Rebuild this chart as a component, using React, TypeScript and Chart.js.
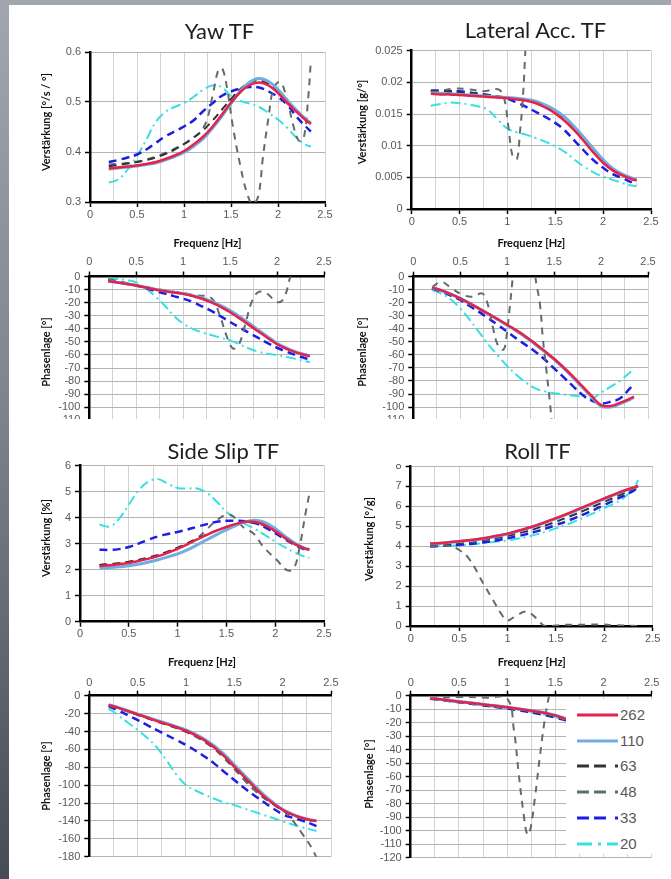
import React, { useEffect, useRef } from "react";
import { Chart, registerables } from "chart.js";

Chart.register(...registerables);

// ---------------- DATA ----------------
const FREQ = [0.2, 0.3, 0.4, 0.5, 0.6, 0.7, 0.8, 0.9, 1.0, 1.1, 1.2, 1.3, 1.4, 1.5, 1.6, 1.7, 1.8, 1.9, 2.0, 2.1, 2.2, 2.3, 2.35];
const SERIES_KEYS = ["262", "110", "63", "48", "33", "20"];

// Yaw TF magnitude
const YAW_MAG_262 = [0.367, 0.369, 0.371, 0.373, 0.376, 0.38, 0.386, 0.393, 0.402, 0.415, 0.43, 0.45, 0.474, 0.499, 0.52, 0.534, 0.539, 0.533, 0.518, 0.498, 0.48, 0.463, 0.456];
const YAW_MAG_110 = [0.366, 0.368, 0.37, 0.372, 0.375, 0.378, 0.384, 0.391, 0.399, 0.411, 0.426, 0.447, 0.471, 0.497, 0.522, 0.54, 0.547, 0.541, 0.525, 0.503, 0.483, 0.465, 0.458];
const YAW_MAG_63 = [0.372, 0.374, 0.377, 0.38, 0.384, 0.389, 0.396, 0.405, 0.416, 0.429, 0.443, 0.462, 0.484, 0.506, 0.526, 0.539, 0.543, 0.536, 0.521, 0.5, 0.481, 0.464, 0.457];
const YAW_MAG_48_F = [0.2, 0.4, 0.6, 0.8, 1.0, 1.1, 1.17, 1.24, 1.31, 1.37, 1.41, 1.46, 1.52, 1.6, 1.67, 1.73, 1.79, 1.84, 1.9, 1.95, 2.02, 2.09, 2.16, 2.22, 2.27, 2.32, 2.35];
const YAW_MAG_48 = [0.375, 0.378, 0.385, 0.398, 0.416, 0.428, 0.44, 0.462, 0.518, 0.566, 0.566, 0.525, 0.451, 0.372, 0.318, 0.296, 0.312, 0.39, 0.47, 0.525, 0.54, 0.51, 0.455, 0.423, 0.425, 0.505, 0.585];
const YAW_MAG_33 = [0.38, 0.384, 0.389, 0.395, 0.405, 0.418, 0.431, 0.441, 0.451, 0.463, 0.481, 0.497, 0.512, 0.521, 0.527, 0.53, 0.529, 0.521, 0.51, 0.494, 0.47, 0.45, 0.441];
const YAW_MAG_20 = [0.339, 0.345, 0.365, 0.392, 0.425, 0.46, 0.48, 0.49, 0.498, 0.51, 0.524, 0.533, 0.53, 0.512, 0.502, 0.497, 0.49, 0.478, 0.465, 0.448, 0.428, 0.414, 0.411];

// Lateral Acc. TF magnitude
const LAT_MAG_262 = [0.0182, 0.0181, 0.0181, 0.018, 0.0179, 0.0178, 0.0177, 0.0176, 0.0175, 0.0173, 0.0171, 0.0167, 0.016, 0.0151, 0.0139, 0.0124, 0.0107, 0.0089, 0.0073, 0.0061, 0.0053, 0.0047, 0.0045];
const LAT_MAG_110 = [0.0183, 0.0183, 0.0182, 0.0181, 0.018, 0.0179, 0.0178, 0.0177, 0.0176, 0.0175, 0.0173, 0.017, 0.0164, 0.0156, 0.0145, 0.013, 0.0113, 0.0095, 0.0078, 0.0064, 0.0055, 0.0049, 0.0046];
const LAT_MAG_63 = [0.0186, 0.0186, 0.0185, 0.0184, 0.0183, 0.0182, 0.018, 0.0178, 0.0176, 0.0174, 0.0172, 0.0168, 0.0161, 0.0152, 0.014, 0.0125, 0.0108, 0.009, 0.0074, 0.0062, 0.0054, 0.0048, 0.0046];
const LAT_MAG_48_F = [0.2, 0.3, 0.45, 0.6, 0.75, 0.9, 0.96, 1.01, 1.055, 1.1, 1.13, 1.16, 1.19, 1.22];
const LAT_MAG_48 = [0.0186, 0.0187, 0.019, 0.0189, 0.0186, 0.0189, 0.0178, 0.013, 0.0083, 0.0079, 0.012, 0.0172, 0.026, 0.036];
const LAT_MAG_33 = [0.0187, 0.0187, 0.0186, 0.0186, 0.0184, 0.0182, 0.018, 0.0177, 0.0174, 0.0168, 0.0161, 0.0153, 0.0145, 0.0136, 0.0124, 0.0108, 0.0092, 0.0077, 0.0065, 0.0055, 0.0049, 0.0042, 0.0039];
const LAT_MAG_20 = [0.0163, 0.0166, 0.0168, 0.0167, 0.0165, 0.0162, 0.0156, 0.0141, 0.0127, 0.0121, 0.0117, 0.0112, 0.0106, 0.0099, 0.009, 0.0078, 0.0067, 0.0058, 0.0051, 0.0046, 0.0041, 0.0037, 0.0036];

// Yaw TF phase
const YAW_PH_262 = [-3.5, -4.6, -5.7, -6.9, -8.4, -9.9, -11.2, -12.2, -13.3, -14.9, -17.0, -19.8, -23.2, -27.3, -32.0, -37.0, -42.0, -47.0, -51.8, -55.3, -58.0, -60.0, -60.9];
const YAW_PH_110 = [-3.4, -4.5, -5.6, -6.8, -8.2, -9.7, -11.0, -12.0, -13.0, -14.5, -16.4, -19.0, -22.2, -26.0, -30.6, -35.6, -40.8, -46.0, -51.0, -54.8, -57.7, -59.8, -60.7];
const YAW_PH_63 = [-3.4, -4.5, -5.6, -6.8, -8.2, -9.6, -10.9, -12.0, -13.2, -14.8, -16.8, -19.6, -23.0, -27.0, -31.8, -36.8, -41.8, -46.8, -51.5, -55.0, -57.8, -59.8, -60.8];
const YAW_PH_48_F = [0.2, 0.4, 0.6, 0.8, 1.0, 1.15, 1.3, 1.39, 1.46, 1.53, 1.59, 1.66, 1.73, 1.8, 1.89, 2.0, 2.07, 2.14, 2.18];
const YAW_PH_48 = [-2, -5, -8, -10.5, -12.8, -14.5, -16.5, -29.7, -45, -55, -52.5, -37, -19.5, -12, -13, -19.5, -17, -0.5, 8];
const YAW_PH_33 = [-2.5, -4, -5.4, -6.9, -8.9, -11, -13, -15, -17, -19.5, -22.8, -26.3, -30.5, -34.8, -39, -43, -47, -51, -54.5, -57.5, -60.2, -62.5, -63.5];
const YAW_PH_20 = [-1.3, -2, -2.8, -4.5, -9, -15, -22, -30, -36, -40, -42.8, -44.8, -46.8, -49, -51.8, -55, -57.5, -59, -60.2, -61.5, -63, -64.8, -65.5];

// Lateral Acc. TF phase
const LAT_PH_262 = [-8.2, -10.5, -13.3, -16.6, -20.4, -24.4, -28.5, -32.6, -36.8, -41.2, -46, -51.4, -57.1, -63, -69.5, -76.5, -84, -91.5, -98.5, -99.2, -96.8, -93.8, -92];
const LAT_PH_110 = [-8.3, -10.6, -13.4, -16.7, -20.5, -24.5, -28.6, -32.8, -37.2, -41.6, -46.5, -51.8, -57.5, -63.5, -70.2, -77.3, -84.8, -92.3, -99.3, -100, -97.5, -94.5, -92.5];
const LAT_PH_63 = [-8.5, -11, -13.8, -17, -21, -25, -29, -33.2, -37.5, -42, -46.8, -52.2, -57.8, -63.8, -70.2, -77.2, -84.6, -92, -98.8, -99.5, -97.2, -94.2, -92.5];
const LAT_PH_48_F = [0.2, 0.3, 0.41, 0.53, 0.64, 0.73, 0.78, 0.85, 0.9, 0.96, 0.99, 1.03, 1.06, 1.1, 1.18, 1.26, 1.3, 1.35, 1.38, 1.42, 1.45, 1.47, 1.5];
const LAT_PH_48 = [-8, -4, -9, -14, -15.3, -12.8, -17.9, -39.6, -52.4, -56, -47.3, -21.7, 0, 30, 60, 30, 0, -21.7, -47.3, -73, -93, -108, -140];
const LAT_PH_33 = [-9, -11.5, -14.5, -17.9, -22.5, -27, -32, -37, -42.2, -47.5, -52.5, -57.5, -63.5, -70.3, -77, -84, -90.5, -95, -97.2, -96, -93.5, -86.3, -81.8];
const LAT_PH_20 = [-10.2, -13, -17.5, -24.3, -33, -42.5, -52, -60.5, -68.5, -75.5, -81.2, -85.7, -88, -89.5, -90.3, -91.2, -92.3, -93.5, -89, -84.5, -80, -74, -70.3];

// Side Slip TF magnitude
const SS_MAG_262 = [2.14, 2.17, 2.21, 2.26, 2.33, 2.42, 2.52, 2.65, 2.8, 2.97, 3.16, 3.34, 3.5, 3.64, 3.76, 3.84, 3.83, 3.7, 3.48, 3.22, 2.98, 2.82, 2.77];
const SS_MAG_110 = [2.06, 2.08, 2.11, 2.15, 2.21, 2.29, 2.38, 2.49, 2.61, 2.76, 2.95, 3.15, 3.35, 3.53, 3.7, 3.84, 3.9, 3.81, 3.58, 3.29, 3.02, 2.83, 2.78];
const SS_MAG_63 = [2.18, 2.21, 2.25, 2.3, 2.37, 2.46, 2.56, 2.69, 2.84, 3.01, 3.19, 3.36, 3.51, 3.64, 3.75, 3.82, 3.8, 3.68, 3.47, 3.21, 2.98, 2.82, 2.77];
const SS_MAG_48_F = [0.2, 0.5, 0.8, 1.0, 1.2, 1.3, 1.4, 1.52, 1.6, 1.67, 1.78, 1.88, 2.02, 2.12, 2.19, 2.25, 2.31, 2.35];
const SS_MAG_48 = [2.18, 2.3, 2.57, 2.85, 3.22, 3.55, 3.9, 4.12, 3.95, 3.64, 3.38, 2.87, 2.36, 1.98, 2.04, 2.87, 4.15, 4.91];
const SS_MAG_33 = [2.77, 2.76, 2.79, 2.87, 3.0, 3.15, 3.28, 3.37, 3.45, 3.54, 3.65, 3.75, 3.84, 3.88, 3.88, 3.86, 3.78, 3.62, 3.4, 3.17, 2.95, 2.78, 2.72];
const SS_MAG_20 = [3.74, 3.66, 3.95, 4.5, 5.05, 5.38, 5.48, 5.3, 5.14, 5.12, 5.12, 4.95, 4.62, 4.22, 3.95, 3.74, 3.55, 3.32, 3.08, 2.86, 2.66, 2.5, 2.45];

// Roll TF magnitude
const ROLL_MAG_262 = [4.12, 4.15, 4.19, 4.24, 4.29, 4.35, 4.43, 4.52, 4.62, 4.75, 4.89, 5.04, 5.21, 5.39, 5.58, 5.78, 5.98, 6.18, 6.38, 6.57, 6.76, 6.92, 7.0];
const ROLL_MAG_110 = [4.1, 4.13, 4.17, 4.22, 4.27, 4.33, 4.41, 4.5, 4.6, 4.73, 4.87, 5.02, 5.19, 5.37, 5.56, 5.76, 5.96, 6.16, 6.36, 6.56, 6.74, 6.91, 6.99];
const ROLL_MAG_63 = [4.05, 4.08, 4.11, 4.15, 4.2, 4.26, 4.33, 4.41, 4.5, 4.61, 4.74, 4.88, 5.04, 5.21, 5.4, 5.59, 5.79, 6.0, 6.21, 6.42, 6.63, 6.85, 6.96];
const ROLL_MAG_48_F = [0.2, 0.4, 0.5, 0.6, 0.75, 0.85, 0.95, 1.0, 1.1, 1.2, 1.3, 1.38, 1.5, 1.6, 1.8, 1.95, 2.1, 2.35];
const ROLL_MAG_48 = [4.0, 4.0, 3.8, 3.38, 2.13, 1.3, 0.5, 0.27, 0.55, 0.72, 0.38, 0.02, 0.02, 0.06, 0.06, 0.08, 0.04, 0.0];
const ROLL_MAG_33 = [3.97, 4.0, 4.03, 4.06, 4.1, 4.15, 4.21, 4.29, 4.38, 4.48, 4.6, 4.73, 4.88, 5.05, 5.22, 5.41, 5.61, 5.82, 6.05, 6.28, 6.51, 6.76, 6.93];
const ROLL_MAG_20 = [3.97, 3.99, 4.01, 4.04, 4.07, 4.12, 4.17, 4.22, 4.28, 4.36, 4.46, 4.58, 4.72, 4.88, 5.05, 5.24, 5.45, 5.67, 5.9, 6.12, 6.4, 6.88, 7.3];

// Side Slip TF phase
const SS_PH_262 = [-10.4, -13.6, -17.2, -20.9, -24.6, -28.3, -31.8, -35.3, -39.2, -44.3, -50.5, -58.5, -68.2, -79.4, -90.5, -101.5, -112, -120.5, -127.8, -133, -136.8, -139.3, -140.1];
const SS_PH_110 = [-10, -13.2, -16.8, -20.4, -24, -27.6, -31, -34.5, -38.3, -43.2, -49.2, -56.8, -66.2, -77.2, -88.3, -99.5, -110.3, -119.3, -127, -132.4, -136.4, -139, -139.7];
const SS_PH_63 = [-10.8, -14, -17.6, -21.3, -25, -28.7, -32.3, -36, -40, -45, -51.3, -59.3, -69, -80.2, -91.3, -102.2, -112.6, -121, -128.2, -133.4, -137.2, -139.7, -140.5];
const SS_PH_48 = [-11, -14.2, -17.8, -21.5, -25.2, -28.9, -32.5, -36.3, -40.5, -45.8, -52.3, -60.3, -70.5, -82, -94, -105, -114, -121, -128, -139, -154, -170, -181];
const SS_PH_33 = [-11.6, -16.6, -21.8, -27.2, -33, -38.6, -44, -49.5, -55.2, -61.5, -68.5, -76.5, -85.5, -94.3, -103, -111, -118.5, -126, -132.5, -136.5, -139.5, -143.5, -145.7];
const SS_PH_20 = [-14.2, -22, -30.2, -38.4, -47.2, -58, -72.5, -88, -100, -106, -111, -115.5, -119.5, -122.3, -126, -129.6, -133.2, -136.8, -140.5, -144, -147, -150, -151];

// Roll TF phase (visible part, 0.2 .. 1.7 Hz)
const ROLL_PH_262 = [-2, -2.7, -3.5, -4.4, -5.2, -6, -6.9, -7.7, -8.6, -9.6, -10.6, -11.7, -12.9, -14.6, -17, -19];
const ROLL_PH_110 = [-1.9, -2.6, -3.4, -4.3, -5.1, -5.9, -6.8, -7.6, -8.5, -9.5, -10.5, -11.6, -12.8, -14.5, -16.9, -18.9];
const ROLL_PH_63 = [-2.1, -2.9, -3.7, -4.6, -5.5, -6.4, -7.3, -8.2, -9.1, -10.1, -11.2, -12.4, -13.7, -15.4, -17.6, -19.6];
const ROLL_PH_48_F = [0.2, 0.5, 0.8, 1.0, 1.07, 1.12, 1.17, 1.21, 1.24, 1.29, 1.34, 1.39, 1.43, 1.47];
const ROLL_PH_48 = [-2, -1, -1.5, -2, -25, -57.5, -87, -103, -99.5, -74.8, -45, -18, -2, 10];
const ROLL_PH_33 = [-2.2, -3.0, -3.9, -4.8, -5.7, -6.6, -7.6, -8.5, -9.5, -10.6, -11.8, -13.1, -14.5, -16.1, -18, -20];
const ROLL_PH_20 = [-2.3, -3.1, -4, -4.9, -5.8, -6.7, -7.6, -8.5, -9.3, -10.3, -11.5, -12.8, -14.2, -15.8, -17.6, -19.6];

// ---------------- STYLES ----------------
const STYLE: Record<string, { color: string; width: number; dash: number[]; legendDash: string }> = {
  "262": { color: "#e3234b", width: 2.5, dash: [], legendDash: "" },
  "110": { color: "#72ade0", width: 3, dash: [], legendDash: "" },
  "63": { color: "#333333", width: 2, dash: [8, 5], legendDash: "12 5 12 9 3 9" },
  "48": { color: "#5f6d6d", width: 2, dash: [7, 6], legendDash: "12 5 12 9 3 9" },
  "33": { color: "#1d1de6", width: 2.5, dash: [8, 5], legendDash: "12 5 12 9 3 9" },
  "20": { color: "#38e0e0", width: 2, dash: [10, 4, 2, 4], legendDash: "15 6 3 6" },
};

const TICK_FONT = { family: "'Liberation Sans', Arial, sans-serif", size: 11 };
const TICK_COLOR = "#595959";
const TICK_LH = 11 * 1.2;
const TICK_LEN = 5;
const AXIS_FONT = { family: "Lato, 'Open Sans', sans-serif", size: 11, weight: "bold" as const };
const AXIS_LH = 11 * 1.2;

type S = { key: string; xs: number[]; ys: number[] };
const s = (key: string, xs: number[], ys: number[]): S => ({ key, xs, ys });

interface PanelCfg {
  id: string;
  title?: string;
  titlePos?: [number, number];
  yTitle: string;
  yTitlePos: [number, number];
  box: [number, number, number, number];
  plot: [number, number, number, number];
  xPos: "top" | "bottom";
  xLabelY: number;
  xTitleY?: number;
  yMin: number;
  yMax: number;
  yStep: number;
  series: S[];
}

const PANELS: PanelCfg[] = [
  {
    id: "yawMag", title: "Yaw TF", titlePos: [219.5, 31], yTitle: "Verstärkung [°/s / °]", yTitlePos: [45, 121.7],
    box: [10, 40, 325, 215], plot: [90, 52, 325, 202], xPos: "bottom", xLabelY: 215, xTitleY: 243,
    yMin: 0.3, yMax: 0.6, yStep: 0.1,
    series: [s("262", FREQ, YAW_MAG_262), s("110", FREQ, YAW_MAG_110), s("63", FREQ, YAW_MAG_63), s("48", YAW_MAG_48_F, YAW_MAG_48), s("33", FREQ, YAW_MAG_33), s("20", FREQ, YAW_MAG_20)],
  },
  {
    id: "latMag", title: "Lateral Acc. TF", titlePos: [535.5, 30.3], yTitle: "Verstärkung [g/°]", yTitlePos: [361.3, 121.7],
    box: [335, 40, 336, 215], plot: [411.7, 50.7, 651, 209], xPos: "bottom", xLabelY: 222, xTitleY: 243,
    yMin: 0, yMax: 0.025, yStep: 0.005,
    series: [s("262", FREQ, LAT_MAG_262), s("110", FREQ, LAT_MAG_110), s("63", FREQ, LAT_MAG_63), s("48", LAT_MAG_48_F, LAT_MAG_48), s("33", FREQ, LAT_MAG_33), s("20", FREQ, LAT_MAG_20)],
  },
  {
    id: "yawPh", yTitle: "Phasenlage [°]", yTitlePos: [44.7, 351.7],
    box: [10, 252, 325, 192], plot: [89.3, 276.5, 324, 434.1], xPos: "top", xLabelY: 262,
    yMin: -120, yMax: 0, yStep: 10,
    series: [s("262", FREQ, YAW_PH_262), s("110", FREQ, YAW_PH_110), s("63", FREQ, YAW_PH_63), s("48", YAW_PH_48_F, YAW_PH_48), s("33", FREQ, YAW_PH_33), s("20", FREQ, YAW_PH_20)],
  },
  {
    id: "latPh", yTitle: "Phasenlage [°]", yTitlePos: [361.3, 351.7],
    box: [335, 252, 336, 192], plot: [413.3, 276.7, 648, 433.1], xPos: "top", xLabelY: 262.3,
    yMin: -120, yMax: 0, yStep: 10,
    series: [s("262", FREQ, LAT_PH_262), s("110", FREQ, LAT_PH_110), s("63", FREQ, LAT_PH_63), s("48", LAT_PH_48_F, LAT_PH_48), s("33", FREQ, LAT_PH_33), s("20", FREQ, LAT_PH_20)],
  },
  {
    id: "ssMag", title: "Side Slip TF", titlePos: [223.3, 451], yTitle: "Verstärkung [%]", yTitlePos: [45.3, 538.3],
    box: [10, 455, 325, 217], plot: [80, 465, 324, 621.7], xPos: "bottom", xLabelY: 634, xTitleY: 662,
    yMin: 0, yMax: 6, yStep: 1,
    series: [s("262", FREQ, SS_MAG_262), s("110", FREQ, SS_MAG_110), s("63", FREQ, SS_MAG_63), s("48", SS_MAG_48_F, SS_MAG_48), s("33", FREQ, SS_MAG_33), s("20", FREQ, SS_MAG_20)],
  },
  {
    id: "rollMag", title: "Roll TF", titlePos: [537.5, 451], yTitle: "Verstärkung [°/g]", yTitlePos: [368.3, 539],
    box: [335, 455, 336, 217], plot: [410.7, 466, 652.7, 626], xPos: "bottom", xLabelY: 639, xTitleY: 662,
    yMin: 0, yMax: 8, yStep: 1,
    series: [s("262", FREQ, ROLL_MAG_262), s("110", FREQ, ROLL_MAG_110), s("63", FREQ, ROLL_MAG_63), s("48", ROLL_MAG_48_F, ROLL_MAG_48), s("33", FREQ, ROLL_MAG_33), s("20", FREQ, ROLL_MAG_20)],
  },
  {
    id: "ssPh", yTitle: "Phasenlage [°]", yTitlePos: [45, 775.8],
    box: [10, 676, 345, 194], plot: [89.3, 695.7, 331, 856.7], xPos: "top", xLabelY: 683,
    yMin: -180, yMax: 0, yStep: 20,
    series: [s("262", FREQ, SS_PH_262), s("110", FREQ, SS_PH_110), s("63", FREQ, SS_PH_63), s("48", FREQ, SS_PH_48), s("33", FREQ, SS_PH_33), s("20", FREQ, SS_PH_20)],
  },
  {
    id: "rollPh", yTitle: "Phasenlage [°]", yTitlePos: [368, 774.2],
    box: [335, 676, 336, 194], plot: [410.7, 695.7, 651.7, 857.7], xPos: "top", xLabelY: 683,
    yMin: -120, yMax: 0, yStep: 10,
    series: [s("262", FREQ, ROLL_PH_262), s("110", FREQ, ROLL_PH_110), s("63", FREQ, ROLL_PH_63), s("48", ROLL_PH_48_F, ROLL_PH_48), s("33", FREQ, ROLL_PH_33), s("20", FREQ, ROLL_PH_20)],
  },
];

const isHalf = (v: number) => Math.abs(v * 2 - Math.round(v * 2)) < 1e-6;

function buildConfig(cfg: PanelCfg): any {
  const [cl, ct, W, H] = cfg.box;
  const [pl, pt, pr, pb] = cfg.plot;
  const bottom = cfg.xPos === "bottom";
  const xH = bottom ? ct + H - pb : pt - ct;
  const padding = {
    left: 0,
    right: cl + W - pr,
    top: bottom ? pt - ct : 0,
    bottom: bottom ? 0 : ct + H - pb,
  };
  const xTickPad = bottom ? cfg.xLabelY - pb - TICK_LEN - TICK_LH / 2 : pt - TICK_LEN - TICK_LH / 2 - cfg.xLabelY;
  const datasets = cfg.series.map((sr) => {
    const st = STYLE[sr.key];
    return {
      label: sr.key,
      data: sr.ys.map((y, i) => ({ x: sr.xs[i], y })),
      borderColor: st.color,
      backgroundColor: st.color,
      borderWidth: st.width,
      borderDash: st.dash,
      pointRadius: 0,
      tension: 0.4,
      fill: false,
      clip: 0,
    };
  });
  return {
    type: "line",
    data: { datasets },
    options: {
      responsive: false,
      animation: false,
      devicePixelRatio: 1,
      events: [],
      layout: { padding, autoPadding: false },
      elements: { line: { capBezierPoints: false } },
      plugins: { legend: { display: false }, tooltip: { enabled: false }, title: { display: false } },
      scales: {
        x: {
          type: "linear",
          position: cfg.xPos,
          min: 0,
          max: 2.5,
          afterFit: (sc: any) => { sc.height = xH; },
          ticks: {
            stepSize: 0.25,
            autoSkip: false,
            maxRotation: 0,
            minRotation: 0,
            padding: xTickPad,
            color: TICK_COLOR,
            font: TICK_FONT,
            callback: (v: any) => (isHalf(Number(v)) ? String(Math.round(Number(v) * 2) / 2) : ""),
          },
          grid: {
            color: "#d2d2d2",
            lineWidth: 1,
            tickLength: TICK_LEN,
            tickWidth: 1.5,
            tickColor: (c: any) => (c.tick && isHalf(c.tick.value) ? "#000" : "rgba(0,0,0,0)"),
          },
          border: { color: "#000", width: 2.5 },
          title: bottom
            ? { display: true, text: "Frequenz [Hz]", font: AXIS_FONT, color: "#111", padding: { top: 0, bottom: ct + H - (cfg.xTitleY as number) - AXIS_LH / 2 } }
            : { display: false },
        },
        y: {
          type: "linear",
          position: "left",
          min: cfg.yMin,
          max: cfg.yMax,
          afterFit: (sc: any) => { sc.width = pl - cl; },
          ticks: {
            stepSize: cfg.yStep,
            autoSkip: false,
            padding: 4,
            color: TICK_COLOR,
            font: TICK_FONT,
            callback: (v: any) => String(Number(Number(v).toFixed(4))),
          },
          grid: { color: "#b4b4b4", lineWidth: 1, tickLength: TICK_LEN, tickWidth: 1.5, tickColor: "#000" },
          border: { color: "#000", width: 2.5 },
        },
      },
    },
  };
}

function Panel({ cfg }: { cfg: PanelCfg }) {
  const ref = useRef<HTMLCanvasElement>(null);
  useEffect(() => {
    if (!ref.current) return;
    const chart = new Chart(ref.current, buildConfig(cfg));
    return () => chart.destroy();
  }, [cfg]);
  const [l, t, w, h] = cfg.box;
  return (
    <canvas
      ref={ref}
      width={w}
      height={h}
      style={{ position: "absolute", left: l, top: t, width: w, height: h, zIndex: 1 }}
    />
  );
}

const LEGEND_BOX = { left: 566, top: 699, width: 88, height: 155 };
const LEGEND_ROW0 = 715;
const LEGEND_ROW_STEP = 25.7;

function Legend() {
  return (
    <div style={{ position: "absolute", ...LEGEND_BOX, background: "#fff", zIndex: 3 }}>
      {SERIES_KEYS.map((k, i) => {
        const st = STYLE[k];
        const cy = LEGEND_ROW0 + i * LEGEND_ROW_STEP - LEGEND_BOX.top;
        return (
          <div key={k}>
            <svg width={42} height={8} style={{ position: "absolute", left: 10.7, top: cy - 4 }}>
              <line x1={0} y1={4} x2={41} y2={4} stroke={st.color} strokeWidth={3} strokeDasharray={st.legendDash || undefined} />
            </svg>
            <span
              style={{
                position: "absolute",
                left: 54,
                top: cy - 10,
                height: 20,
                lineHeight: "20px",
                fontFamily: "'Liberation Sans', Arial, sans-serif",
                fontSize: 15,
                color: "#595959",
                whiteSpace: "nowrap",
              }}
            >
              {k}
            </span>
          </div>
        );
      })}
    </div>
  );
}

export default function App() {
  return (
    <div style={{ position: "absolute", left: 0, top: 0, width: 671, height: 879, background: "#fff", overflow: "hidden" }}>
      {PANELS.map((p) => (
        <Panel key={p.id} cfg={p} />
      ))}
      {/* cropped edges of the source picture */}
      <div style={{ position: "absolute", left: 9, top: 419, width: 322, height: 21, background: "#fff", zIndex: 2 }} />
      <div style={{ position: "absolute", left: 335, top: 419, width: 336, height: 21, background: "#fff", zIndex: 2 }} />
      <div style={{ position: "absolute", left: 335, top: 440, width: 336, height: 23.5, background: "#fff", zIndex: 2 }} />
      <Legend />
      {PANELS.filter((p) => p.title).map((p) => (
        <div
          key={p.id + "-t"}
          style={{
            position: "absolute",
            left: (p.titlePos as number[])[0],
            top: (p.titlePos as number[])[1],
            transform: "translate(-50%, -50%)",
            fontFamily: "Lato, 'Open Sans', sans-serif",
            fontSize: 22,
            lineHeight: 1,
            color: "#1e1e1e",
            whiteSpace: "nowrap",
            zIndex: 4,
          }}
        >
          {p.title}
        </div>
      ))}
      {PANELS.map((p) => (
        <div
          key={p.id + "-y"}
          style={{
            position: "absolute",
            left: p.yTitlePos[0],
            top: p.yTitlePos[1],
            transform: "translate(-50%, -50%) rotate(-90deg)",
            fontFamily: "Lato, 'Open Sans', sans-serif",
            fontWeight: "bold",
            fontSize: 11,
            lineHeight: "13px",
            color: "#111",
            whiteSpace: "nowrap",
            zIndex: 4,
          }}
        >
          {p.yTitle}
        </div>
      ))}
      <div style={{ position: "absolute", left: 0, top: 0, width: 671, height: 5, background: "#a1a5ae", zIndex: 5 }} />
      <div
        style={{
          position: "absolute",
          left: 0,
          top: 0,
          width: 9,
          height: 879,
          background: "linear-gradient(to bottom, #a2a6af 0%, #80848e 45%, #474b56 100%)",
          zIndex: 5,
        }}
      />
    </div>
  );
}
